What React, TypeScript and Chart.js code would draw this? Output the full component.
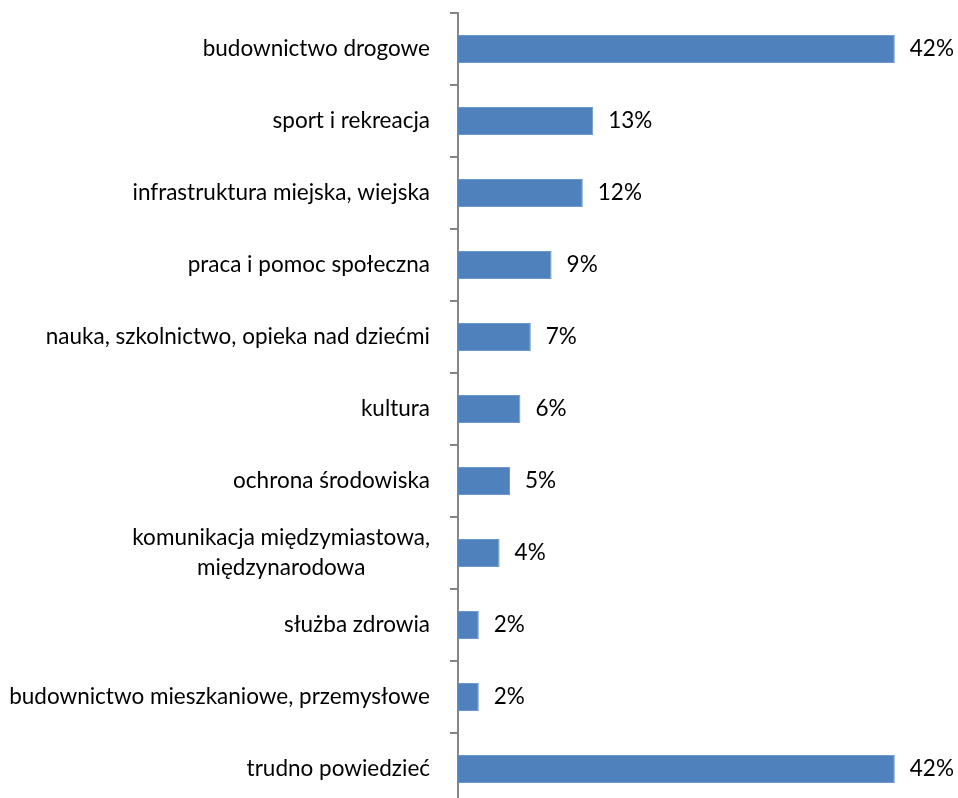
import React, { useEffect, useRef } from "react";
import { Chart, registerables } from "chart.js";

Chart.register(...registerables);

const categories: string[][] = [
  ["budownictwo drogowe"],
  ["sport i rekreacja"],
  ["infrastruktura miejska, wiejska"],
  ["praca i pomoc społeczna"],
  ["nauka, szkolnictwo, opieka nad dziećmi"],
  ["kultura"],
  ["ochrona środowiska"],
  ["komunikacja międzymiastowa,", "międzynarodowa"],
  ["służba zdrowia"],
  ["budownictwo mieszkaniowe, przemysłowe"],
  ["trudno powiedzieć"],
];
const values: number[] = [42, 13, 12, 9, 7, 6, 5, 4, 2, 2, 42];

const FONT = "Lato, 'Open Sans', sans-serif";
const FONT_SIZE = 22.5;

const labelPlugin = {
  id: "customLabels",
  afterDraw(chart: any) {
    const ctx = chart.ctx;
    const y = chart.scales.y;
    const meta = chart.getDatasetMeta(0);
    ctx.save();
    ctx.font = `${FONT_SIZE}px ${FONT}`;
    ctx.fillStyle = "#000";
    ctx.textBaseline = "middle";
    const rightEdge = y.right - 28;
    const lineH = 30;
    categories.forEach((lines, i) => {
      const cy = y.getPixelForValue(i);
      const widths = lines.map((l) => ctx.measureText(l).width);
      const blockW = Math.max(...widths);
      const blockCenter = rightEdge - blockW / 2;
      lines.forEach((l, j) => {
        const ly = cy + (j - (lines.length - 1) / 2) * lineH;
        ctx.textAlign = "center";
        ctx.fillText(l, blockCenter, ly);
      });
    });
    ctx.textAlign = "left";
    meta.data.forEach((bar: any, i: number) => {
      ctx.fillText(values[i] + "%", bar.x + 15, bar.y);
    });
    ctx.restore();
  },
};

export default function App() {
  const ref = useRef<HTMLCanvasElement | null>(null);
  useEffect(() => {
    document.body.style.margin = "0";
    const chart = new Chart(ref.current!, {
      type: "bar",
      data: {
        labels: categories.map((c) => c.join(" ")),
        datasets: [
          {
            data: values,
            backgroundColor: "#4F81BD",
            borderColor: "#6E98CB",
            borderWidth: 1,
            barPercentage: 0.39,
            categoryPercentage: 1,
          },
        ],
      },
      options: {
        indexAxis: "y",
        animation: false,
        responsive: false,
        maintainAspectRatio: false,
        layout: { padding: { top: 13, right: 32, bottom: 0, left: 0 } },
        plugins: { legend: { display: false }, tooltip: { enabled: false } },
        scales: {
          x: { display: false, min: 0, max: 45 },
          y: {
            afterFit: (scale: any) => {
              scale.width = 458;
            },
            grid: {
              drawOnChartArea: false,
              drawTicks: true,
              tickLength: 8,
              color: "#868686",
              lineWidth: 2,
              offset: true,
            },
            border: { display: true, color: "#868686", width: 2 },
            ticks: { display: false },
          },
        },
      },
      plugins: [labelPlugin],
    });
    return () => chart.destroy();
  }, []);
  return (
    <div style={{ width: 958, height: 798, overflow: "hidden" }}>
      <canvas ref={ref} width={958} height={805} style={{ display: "block" }} />
    </div>
  );
}
